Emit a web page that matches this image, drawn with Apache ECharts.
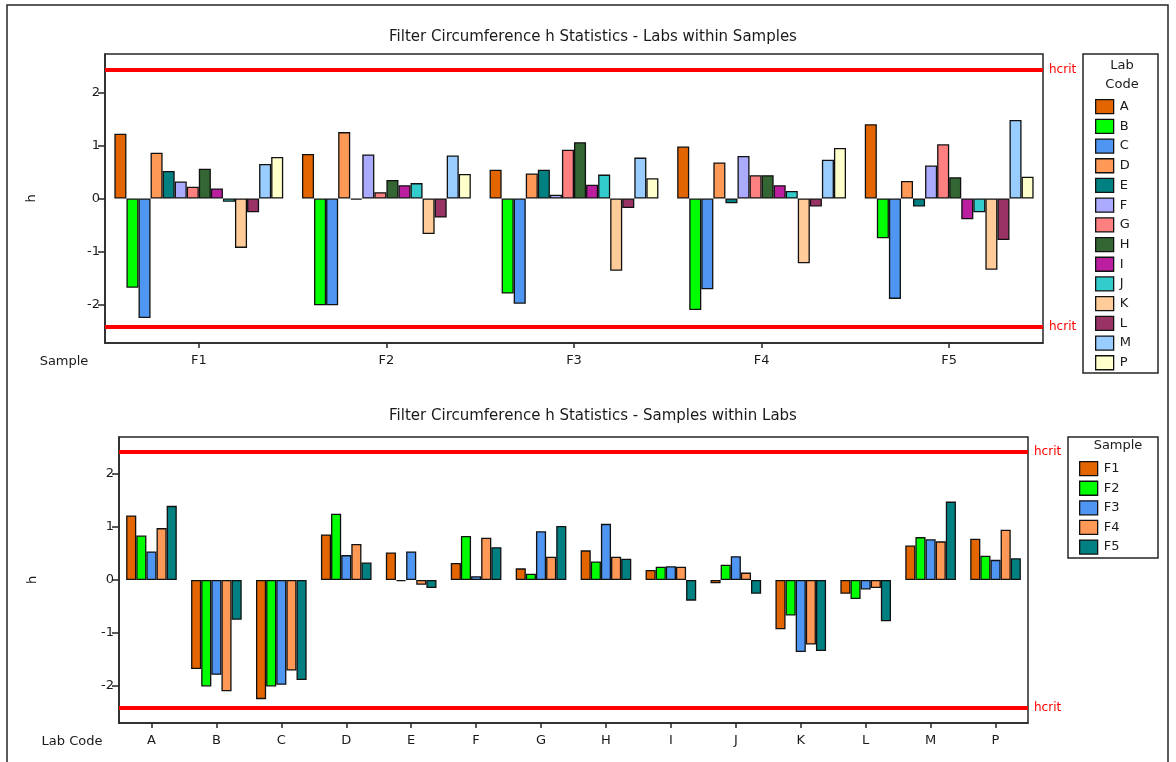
<!DOCTYPE html>
<html>
<head>
<meta charset="utf-8">
<title>Filter Circumference h Statistics</title>
<script src="https://cdn.jsdelivr.net/npm/echarts@6/dist/echarts.min.js"></script>
<style>
  html, body { margin: 0; padding: 0; background: #fff; }
  #chart { width: 1176px; height: 762px; }
</style>
</head>
<body>
<div id="chart"></div>
<script>
// Lab codes and sample names
const labs = ['A', 'B', 'C', 'D', 'E', 'F', 'G', 'H', 'I', 'J', 'K', 'L', 'M', 'P'];
const samples = ['F1', 'F2', 'F3', 'F4', 'F5'];
const yTicks = [-2, -1, 0, 1, 2];

// h statistic of each lab for samples F1..F5
const hA = [1.22, 0.84, 0.54, 0.98, 1.40];
const hB = [-1.68, -2.01, -1.79, -2.10, -0.75];
const hC = [-2.25, -2.01, -1.98, -1.71, -1.89];
const hD = [0.86, 1.25, 0.47, 0.68, 0.33];
const hE = [0.52, -0.02, 0.54, -0.09, -0.15];
const hF = [0.32, 0.83, 0.07, 0.80, 0.62];
const hG = [0.22, 0.12, 0.92, 0.44, 1.02];
const hH = [0.56, 0.35, 1.06, 0.44, 0.40];
const hI = [0.19, 0.25, 0.26, 0.25, -0.39];
const hJ = [-0.06, 0.29, 0.45, 0.14, -0.26];
const hK = [-0.93, -0.67, -1.36, -1.22, -1.34];
const hL = [-0.26, -0.36, -0.18, -0.15, -0.78];
const hM = [0.65, 0.81, 0.77, 0.73, 1.48];
const hP = [0.78, 0.46, 0.38, 0.95, 0.41];

// critical h value
const hcrit = 2.42;

const labRows = [hA, hB, hC, hD, hE, hF, hG, hH, hI, hJ, hK, hL, hM, hP];

const labColors = ['#E36500', '#00FF00', '#4F96F2', '#FF9955', '#008080', '#AAAAFF', '#FF8080',
                   '#336633', '#BB1E9E', '#33CCCC', '#FFCC99', '#993366', '#99CCFF', '#FFFFCC'];
const sampleColors = ['#E36500', '#00FF00', '#4F96F2', '#FF9955', '#008080'];

const FONT = 'DejaVu Sans';
const TXT = '#1a1a1a';
const AX = '#262626';

function hcritLine() {
  return {
    silent: true,
    symbol: 'none',
    lineStyle: { color: '#FF0000', width: 4, type: 'solid' },
    label: {
      show: true, position: 'end', distance: 6, formatter: 'hcrit',
      color: '#FF0000', fontFamily: FONT, fontSize: 12
    },
    emphasis: { disabled: true },
    data: [{ yAxis: hcrit }, { yAxis: -hcrit }]
  };
}

const barItem = (c) => ({ color: c, borderColor: '#111', borderWidth: 1.3 });

const series = [];
// top panel: one series per lab across samples
labs.forEach((lab, i) => {
  const s = {
    name: lab, type: 'bar', xAxisIndex: 0, yAxisIndex: 0,
    data: labRows[i], barGap: '0%', barCategoryGap: '10%',
    itemStyle: barItem(labColors[i]),
    emphasis: { disabled: true }
  };
  if (i === 0) s.markLine = hcritLine();
  series.push(s);
});
// bottom panel: one series per sample across labs
samples.forEach((smp, j) => {
  const s = {
    name: smp, type: 'bar', xAxisIndex: 1, yAxisIndex: 1,
    data: labRows.map(r => r[j]), barGap: '0%', barCategoryGap: '22%',
    itemStyle: barItem(sampleColors[j]),
    emphasis: { disabled: true }
  };
  if (j === 0) s.markLine = hcritLine();
  series.push(s);
});

function yAxisDef(gridIndex, lim, gap) {
  return {
    type: 'value', gridIndex, min: -lim, max: lim,
    name: 'h', nameLocation: 'middle', nameGap: gap, nameRotate: 90,
    nameTextStyle: { fontFamily: FONT, fontSize: 13, color: TXT },
    splitLine: { show: false },
    axisLine: { show: true, lineStyle: { color: AX, width: 1.5 } },
    axisTick: { show: true, length: 7, lineStyle: { color: AX, width: 1.5 }, customValues: yTicks },
    axisLabel: { fontFamily: FONT, fontSize: 13, color: TXT, margin: 5, customValues: yTicks }
  };
}

function xAxisDef(gridIndex, cats) {
  return {
    type: 'category', gridIndex, data: cats, boundaryGap: true,
    axisLine: { show: true, onZero: false, lineStyle: { color: AX, width: 1.5 } },
    axisTick: { show: true, alignWithLabel: true, length: 5, lineStyle: { color: AX, width: 1.5 } },
    axisLabel: { fontFamily: FONT, fontSize: 13, color: TXT, margin: 11, interval: 0 },
    splitLine: { show: false }
  };
}

const legendText = { fontFamily: FONT, fontSize: 13, color: TXT, padding: [0, 0, 0, 1] };

const option = {
  animation: false,
  backgroundColor: '#fff',
  title: [
    { text: 'Filter Circumference h Statistics - Labs within Samples', left: 588, top: 25, textAlign: 'center',
      textStyle: { fontFamily: FONT, fontSize: 15, fontWeight: 'normal', color: TXT } },
    { text: 'Filter Circumference h Statistics - Samples within Labs', left: 588, top: 404, textAlign: 'center',
      textStyle: { fontFamily: FONT, fontSize: 15, fontWeight: 'normal', color: TXT } }
  ],
  grid: [
    { left: 105, top: 54, width: 938, height: 289, show: true, borderColor: AX, borderWidth: 1.5, backgroundColor: 'transparent' },
    { left: 119, top: 437, width: 909, height: 286, show: true, borderColor: AX, borderWidth: 1.5, backgroundColor: 'transparent' }
  ],
  xAxis: [xAxisDef(0, samples), xAxisDef(1, labs)],
  yAxis: [yAxisDef(0, 2.72, 67), yAxisDef(1, 2.7, 80)],
  legend: [
    { data: labs, orient: 'vertical', left: 1090, top: 94, itemWidth: 18, itemHeight: 14, itemGap: 4.4,
      icon: 'rect', selectedMode: false, textStyle: legendText, itemStyle: { borderColor: '#111', borderWidth: 1.3 } },
    { data: samples, orient: 'vertical', left: 1074, top: 456, itemWidth: 18, itemHeight: 14, itemGap: 4.3,
      icon: 'rect', selectedMode: false, textStyle: legendText, itemStyle: { borderColor: '#111', borderWidth: 1.3 } }
  ],
  series,
  graphic: [
    { type: 'rect', silent: true, z: -1, shape: { x: 7, y: 5, width: 1161, height: 800 },
      style: { fill: 'none', stroke: AX, lineWidth: 1.5 } },
    { type: 'rect', silent: true, shape: { x: 1083, y: 54, width: 75, height: 319 },
      style: { fill: 'none', stroke: AX, lineWidth: 1.5 } },
    { type: 'text', silent: true, x: 1122, y: 66, style: { text: 'Lab', fontFamily: FONT, fontSize: 13, fill: TXT, align: 'center', verticalAlign: 'middle' } },
    { type: 'text', silent: true, x: 1122, y: 85, style: { text: 'Code', fontFamily: FONT, fontSize: 13, fill: TXT, align: 'center', verticalAlign: 'middle' } },
    { type: 'rect', silent: true, shape: { x: 1068, y: 437, width: 90, height: 121 },
      style: { fill: 'none', stroke: AX, lineWidth: 1.5 } },
    { type: 'text', silent: true, x: 1118, y: 446, style: { text: 'Sample', fontFamily: FONT, fontSize: 13, fill: TXT, align: 'center', verticalAlign: 'middle' } },
    { type: 'text', silent: true, x: 64, y: 362, style: { text: 'Sample', fontFamily: FONT, fontSize: 13, fill: TXT, align: 'center', verticalAlign: 'middle' } },
    { type: 'text', silent: true, x: 72, y: 742, style: { text: 'Lab Code', fontFamily: FONT, fontSize: 13, fill: TXT, align: 'center', verticalAlign: 'middle' } }
  ]
};

const chart = echarts.init(document.getElementById('chart'), null, { renderer: 'canvas' });
chart.setOption(option);
</script>
</body>
</html>
